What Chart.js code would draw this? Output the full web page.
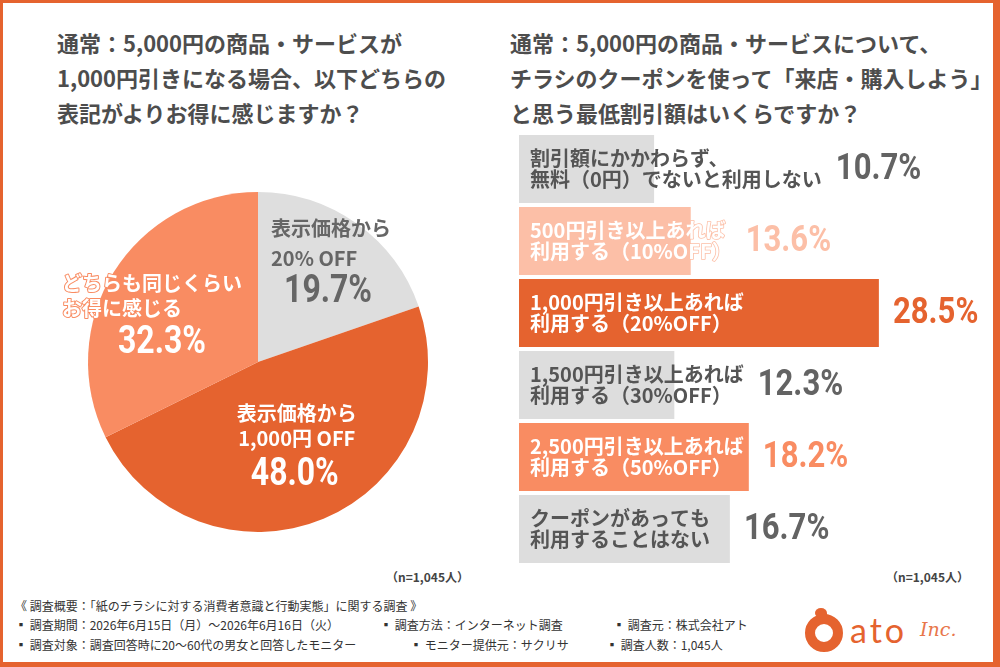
<!DOCTYPE html>
<html lang="ja">
<head>
<meta charset="utf-8">
<script src="https://cdn.jsdelivr.net/npm/chart.js@4.4.1/dist/chart.umd.min.js"></script>
<style>
  body { margin: 0; background: #fff; }
  #frame {
    position: relative; width: 1000px; height: 667px; box-sizing: border-box;
    border-style: solid; border-color: #e5632f; border-width: 3px 7px 5px 3px;
    font-family: 'Noto Sans CJK JP', sans-serif; overflow: hidden;
  }
  .title { position: absolute; font-size: 22px; font-weight: bold; line-height: 35px; color: #4d4d4d; white-space: nowrap; }
  .n { position: absolute; font-size: 12px; font-weight: bold; color: #444; }
  .foot { position: absolute; font-size: 12px; color: #333; white-space: nowrap; line-height: 14px; }
  canvas { position: absolute; }
  #logo { position: absolute; left: 797px; top: 602px; width: 180px; height: 52px; }
</style>
</head>
<body>
<div id="frame">
  <div class="title" style="left:54px;top:22px;">通常：5,000円の商品・サービスが<br>1,000円引きになる場合、以下どちらの<br>表記がよりお得に感じますか？</div>
  <div class="title" style="left:507px;top:22px;">通常：5,000円の商品・サービスについて、<br>チラシのクーポンを使って「来店・購入しよう」<br>と思う最低割引額はいくらですか？</div>

  <canvas id="pie" width="436" height="360" style="left:37px;top:179px;"></canvas>
  <canvas id="bar" width="471" height="432" style="left:516px;top:130px;"></canvas>

  <div class="n" style="left:383px;top:565px;">（n=1,045人）</div>
  <div class="n" style="left:883px;top:565px;">（n=1,045人）</div>

  <div class="foot" style="left:12px;top:596px;">《 調査概要：「紙のチラシに対する消費者意識と行動実態」に関する調査 》</div>
  <div class="foot" style="left:12px;top:615px;">▪ 調査期間：2026年6月15日（月）～2026年6月16日（火）</div>
  <div class="foot" style="left:377px;top:615px;">▪ 調査方法：インターネット調査</div>
  <div class="foot" style="left:610px;top:615px;">▪ 調査元：株式会社アト</div>
  <div class="foot" style="left:12px;top:635px;">▪ 調査対象：調査回答時に20～60代の男女と回答したモニター</div>
  <div class="foot" style="left:407px;top:635px;">▪ モニター提供元：サクリサ</div>
  <div class="foot" style="left:603px;top:635px;">▪ 調査人数：1,045人</div>

  <div id="logo">
    <div style="position:absolute;left:5px;top:9px;width:18px;height:18px;border:10px solid #e5632f;border-radius:50%;"></div>
    <div style="position:absolute;left:15px;top:3px;width:12px;height:10px;background:#e5632f;border-radius:60% 60% 0 60%;"></div>
    <div style="position:absolute;left:50px;top:4px;font-family:'Lato',sans-serif;font-size:34px;color:#e5632f;letter-spacing:3px;">ato</div>
    <div style="position:absolute;left:120px;top:13px;font-family:'DejaVu Serif',serif;font-style:italic;font-size:19px;color:#e8764b;">Inc.</div>
  </div>
</div>

<script>
// left: pie
var pieLabels = [['表示価格から', '20% OFF'], ['表示価格から', '1,000円 OFF'], ['どちらも同じくらい', 'お得に感じる']];
var pieValues = [19.7, 48.0, 32.3];

// right: bars
var barLabels = [
  ['割引額にかかわらず、', '無料（0円）でないと利用しない'],
  ['500円引き以上あれば', '利用する（10%OFF）'],
  ['1,000円引き以上あれば', '利用する（20%OFF）'],
  ['1,500円引き以上あれば', '利用する（30%OFF）'],
  ['2,500円引き以上あれば', '利用する（50%OFF）'],
  ['クーポンがあっても', '利用することはない']
];
var barValues = [10.7, 13.6, 28.5, 12.3, 18.2, 16.7];

var GRAY = '#dddddd', DARK = '#e5632f', SALMON = '#f98c62', PALE = '#fcbfa7';
var jpFont = "'Noto Sans CJK JP', sans-serif";

// condensed numbers: Roboto squeezed sideways
function drawNum(ctx, text, x, y, size, squeeze, align, color) {
  ctx.save();
  ctx.font = 'bold ' + size + 'px Roboto, sans-serif';
  ctx.textBaseline = 'middle';
  var w = ctx.measureText(text).width * squeeze;
  var left = align === 'center' ? x - w / 2 : x;
  ctx.translate(left, y);
  ctx.scale(squeeze, 1);
  ctx.textAlign = 'left';
  ctx.fillStyle = color;
  ctx.fillText(text, 0, 0);
  ctx.restore();
}

// where each slice puts its text, relative to a point on the slice's mid angle
var pieText = [
  { frac: 0.70, dx: -56, dy: -37, gap: 30, align: 'left', pctDx: -3, pctGap: 34, color: '#666', stroke: null },
  { frac: 0.50, dx: 6, dy: -27, gap: 25, align: 'center', pctDx: -2, pctGap: 37, color: '#fff', stroke: null },
  { frac: 0.70, dx: -95, dy: -16, gap: 25, align: 'left', pctDx: 10, pctGap: 35, color: '#fff', stroke: SALMON }
];

var pieTextPlugin = {
  id: 'pieText',
  afterDatasetsDraw: function (chart) {
    var ctx = chart.ctx;
    chart.getDatasetMeta(0).data.forEach(function (arc, i) {
      var t = pieText[i];
      var mid = (arc.startAngle + arc.endAngle) / 2;
      var ax = arc.x + Math.cos(mid) * arc.outerRadius * t.frac;
      var ay = arc.y + Math.sin(mid) * arc.outerRadius * t.frac;
      var lines = pieLabels[i];
      var y = ay + t.dy, w = 0;
      ctx.save();
      ctx.textBaseline = 'middle';
      ctx.textAlign = t.align;
      ctx.font = 'bold 20px ' + jpFont;
      ctx.lineJoin = 'round';
      lines.forEach(function (line, k) {
        w = Math.max(w, ctx.measureText(line).width);
        if (t.stroke) { ctx.strokeStyle = t.stroke; ctx.lineWidth = 2; ctx.strokeText(line, ax + t.dx, y + k * t.gap); }
        ctx.fillStyle = t.color;
        ctx.fillText(line, ax + t.dx, y + k * t.gap);
      });
      ctx.restore();
      var px = t.align === 'left' ? ax + t.dx + w / 2 : ax + t.dx;
      var py = y + (lines.length - 1) * t.gap + t.pctGap;
      drawNum(ctx, pieValues[i].toFixed(1) + '%', px + t.pctDx, py, 39, 0.82, 'center', t.color);
    });
  }
};

new Chart(document.getElementById('pie'), {
  type: 'pie',
  data: {
    labels: pieLabels.map(function (l) { return l.join(' '); }),
    datasets: [{ data: pieValues, backgroundColor: ['#dedede', DARK, SALMON], borderWidth: 0 }]
  },
  options: {
    responsive: false, animation: false,
    layout: { padding: { left: 48, right: 48, top: 10, bottom: 10 } },
    plugins: { legend: { display: false }, tooltip: { enabled: false } }
  },
  plugins: [pieTextPlugin]
});

var barColors = [GRAY, PALE, DARK, GRAY, SALMON, GRAY];
var labelColors = ['#555', '#fff', '#fff', '#555', '#fff', '#555'];
var valueColors = ['#636363', PALE, DARK, '#636363', SALMON, '#636363'];

var barTextPlugin = {
  id: 'barText',
  afterDatasetsDraw: function (chart) {
    var ctx = chart.ctx;
    chart.getDatasetMeta(0).data.forEach(function (bar, i) {
      ctx.save();
      ctx.font = 'bold 20px ' + jpFont;
      ctx.textBaseline = 'middle';
      ctx.textAlign = 'left';
      ctx.lineJoin = 'round';
      var tx = bar.base + 11, right = bar.x;
      barLabels[i].forEach(function (line, k) {
        var y = bar.y + (k === 0 ? -10.5 : 10.5);
        if (labelColors[i] === '#fff') {
          ctx.strokeStyle = barColors[i]; ctx.lineWidth = 1.6;
          ctx.strokeText(line, tx, y);
        }
        ctx.fillStyle = labelColors[i];
        ctx.fillText(line, tx, y);
        right = Math.max(right, tx + ctx.measureText(line).width);
      });
      ctx.restore();
      drawNum(ctx, barValues[i].toFixed(1) + '%', right + 14, bar.y + 1, 37, 0.84, 'left', valueColors[i]);
    });
  }
};

new Chart(document.getElementById('bar'), {
  type: 'bar',
  data: {
    labels: barLabels.map(function (l) { return l.join(''); }),
    datasets: [{ data: barValues, backgroundColor: barColors, borderWidth: 0, barPercentage: 0.944, categoryPercentage: 1 }]
  },
  options: {
    indexAxis: 'y', responsive: false, animation: false,
    layout: { padding: 0 },
    scales: {
      x: { display: false, min: 0, max: 37.3 },
      y: { display: false }
    },
    plugins: { legend: { display: false }, tooltip: { enabled: false } }
  },
  plugins: [barTextPlugin]
});
</script>
</body>
</html>
